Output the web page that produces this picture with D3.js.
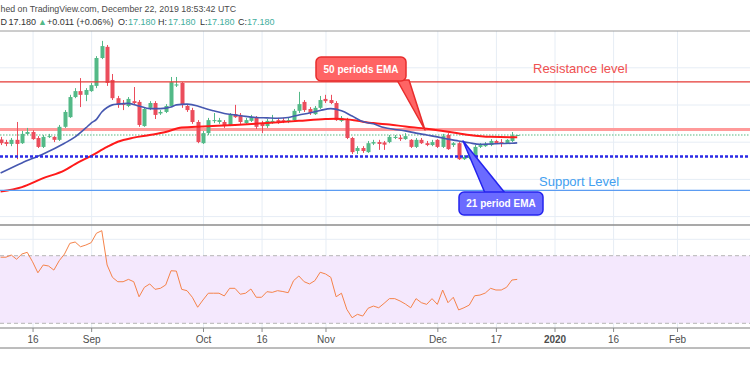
<!DOCTYPE html>
<html>
<head>
<meta charset="utf-8">
<script src="https://cdn.jsdelivr.net/npm/d3@7"></script>
<style>
  body { margin: 0; background: #fff; }
  svg { display: block; font-family: "Liberation Sans", Arial, sans-serif; }
</style>
</head>
<body>
<div class="canvas"></div>
<script>
// x axis: bar index of each tick and its label (weekday bars, Aug 8 2019 = 0)
const tickIdx = [6, 17, 38, 49, 61, 82, 93, 104, 115, 127];
const tickLabels = ["16", "Sep", "Oct", "16", "Nov", "Dec", "17", "2020", "16", "Feb"];

// daily candles [open, high, low, close]
const candles = [
  [17.06,17.13,16.91,16.96],[16.99,17.05,16.88,16.94],[16.94,17.10,16.88,17.05],[17.05,17.53,16.53,16.94],
  [16.96,17.29,16.94,17.21],[17.21,17.37,17.18,17.26],[17.26,17.31,17.05,17.07],[17.10,17.15,16.83,16.86],
  [16.86,17.18,16.83,17.13],[17.13,17.21,17.10,17.15],[17.13,17.15,16.99,17.05],[17.05,17.45,17.02,17.40],
  [17.40,17.85,17.37,17.80],[17.66,18.26,17.64,18.20],[18.20,18.44,18.17,18.36],[18.36,18.71,17.93,18.26],
  [18.26,18.44,18.09,18.39],[18.36,18.58,18.34,18.52],[18.50,19.30,18.44,19.25],[19.25,19.71,19.22,19.57],
  [19.55,19.60,18.50,18.58],[18.66,18.82,18.12,18.17],[18.17,18.23,17.91,17.99],[18.04,18.12,17.85,17.99],
  [17.96,18.20,17.93,18.15],[18.09,18.47,18.01,18.04],[18.07,18.12,17.40,17.45],[17.42,17.93,17.40,17.88],
  [17.91,18.09,17.85,18.04],[18.04,18.09,17.61,17.72],[17.76,17.85,17.72,17.80],[17.80,18.01,17.77,17.96],
  [17.96,18.74,17.93,18.60],[18.51,18.74,18.47,18.54],[18.58,18.60,17.91,18.01],[17.96,18.01,17.80,17.85],
  [17.85,17.91,17.48,17.53],[17.53,17.58,16.96,16.99],[16.96,17.29,16.94,17.23],[17.23,17.64,17.18,17.58],
  [17.56,17.77,17.50,17.58],[17.53,17.64,17.48,17.58],[17.53,17.58,17.37,17.42],[17.45,17.77,17.42,17.72],
  [17.74,17.99,17.64,17.66],[17.72,17.77,17.48,17.53],[17.50,17.64,17.48,17.58],[17.56,17.72,17.53,17.66],
  [17.66,17.69,17.34,17.40],[17.50,17.56,17.23,17.42],[17.42,17.61,17.37,17.56],[17.53,17.72,17.48,17.56],
  [17.58,17.64,17.48,17.50],[17.58,17.64,17.50,17.53],[17.53,17.64,17.50,17.58],[17.58,17.88,17.56,17.83],
  [17.83,18.34,17.77,18.01],[18.07,18.12,17.80,17.85],[17.88,17.93,17.72,17.77],[17.74,17.96,17.72,17.91],
  [17.91,18.23,17.88,18.12],[18.15,18.26,18.04,18.09],[18.12,18.26,18.01,18.04],[18.04,18.09,17.56,17.58],
  [17.56,17.69,17.53,17.64],[17.58,17.64,17.07,17.10],[17.10,17.13,16.67,16.72],[16.75,16.88,16.67,16.83],
  [16.83,16.88,16.70,16.75],[16.72,17.02,16.70,16.96],[16.95,17.05,16.91,16.99],[16.99,17.05,16.78,16.94],
  [16.98,17.02,16.78,16.92],[16.99,17.18,16.96,17.13],[17.10,17.18,17.07,17.13],[17.11,17.18,17.02,17.07],
  [17.07,17.23,17.05,17.15],[17.05,17.07,16.83,16.86],[16.86,17.10,16.83,17.05],[17.05,17.10,16.94,16.96],
  [16.96,17.02,16.88,16.91],[16.91,17.05,16.88,16.99],[17.05,17.07,16.83,16.86],[16.86,17.21,16.83,17.15],
  [17.18,17.23,16.78,16.80],[16.91,16.99,16.86,16.96],[16.96,16.99,16.51,16.53],[16.53,16.64,16.51,16.59],
  [16.56,16.70,16.53,16.64],[16.59,16.91,16.56,16.86],[16.86,16.96,16.83,16.91],[16.88,16.99,16.86,16.94],
  [16.91,17.07,16.88,17.02],[17.02,17.05,16.94,16.96],[16.99,17.07,16.86,16.95],[16.95,17.07,16.94,17.05],
  [17.02,17.26,16.99,17.17],[17.18,17.18,17.18,17.18]
];

// EMA readings (bar index, value)
const ema21Idx = [0,4,8,12,14,16,17,18,19,20,21,22,24,26,28,30,32,33,35,37,38,40,42,44,46,48,50,52,54,56,58,60,62,64,66,68,70,72,74,76,78,80,82,84,86,88,90,92,94,96,97];
const ema21 = [16.16,16.43,16.67,16.96,17.13,17.37,17.50,17.60,17.80,17.92,17.99,18.01,18.03,17.96,17.89,17.89,17.93,17.99,18.01,17.96,17.91,17.83,17.76,17.72,17.68,17.65,17.64,17.63,17.65,17.72,17.77,17.84,17.89,17.83,17.69,17.54,17.48,17.38,17.33,17.29,17.23,17.18,17.13,17.07,17.02,16.97,16.93,16.94,16.95,16.96,16.97];
const ema50Idx = [0,4,8,12,14,17,20,22,25,28,31,34,38,44,50,56,61,63,65,67,70,73,76,80,84,88,92,96,97];
const ema50 = [15.66,15.78,16.02,16.23,16.40,16.62,16.86,17.00,17.11,17.18,17.26,17.38,17.41,17.45,17.50,17.56,17.61,17.62,17.60,17.56,17.50,17.46,17.41,17.35,17.27,17.18,17.13,17.12,17.12];

// RSI(14), one value per bar
const rsi = [69.1,69.1,70.4,67.9,71.0,72.0,66.4,59.9,64.5,63.9,61.5,67.0,71.0,77.3,78.1,75.3,76.3,77.7,83.3,84.8,
  64.5,57.2,54.6,54.6,56.0,54.6,45.7,51.3,53.3,50.1,50.7,52.7,61.1,60.9,50.1,49.3,45.4,39.5,43.8,47.8,
  47.8,47.8,46.2,50.7,50.7,47.2,47.8,50.3,45.4,45.4,48.7,48.3,49.3,48.8,48.1,55.2,58.0,54.6,53.3,55.2,
  60.2,59.2,57.2,45.7,47.8,38.3,33.3,35.3,34.3,38.9,40.2,39.2,41.8,44.6,44.6,43.2,41.4,39.2,44.6,42.2,
  41.2,44.6,41.2,49.7,42.2,45.4,37.9,39.2,40.8,46.3,46.7,47.9,50.7,49.7,49.7,51.3,55.6,56.0];

// drawn levels
const resistance = 18.61;
const pinkLevel = 17.33;
const lastPrice = 17.18;
const dashedLevel = 16.60;
const support = 15.69;

const dims = { width: 750, height: 375 };
const pane = { top: 31, bottom: 225, rsiBottom: 328 };

const svg = d3.select('.canvas')
  .append('svg')
  .attr('width', dims.width)
  .attr('height', dims.height);

svg.append('rect').attr('width', dims.width).attr('height', dims.height).attr('fill', '#fff');

const x = d3.scaleLinear().domain([0, 127]).range([0.6, 677]);
const y = d3.scaleLinear().domain([15, 20]).range([216.1, 30.1]);
const yr = d3.scaleLinear().domain([30, 70]).range([323.3, 255.7]);

// grids
const grid = svg.append('g');
grid.append('g')
  .call(d3.axisLeft(y).tickValues([15, 16, 17, 18, 19]).tickSize(-dims.width).tickFormat(''))
  .call(g => g.select('.domain').remove());
grid.append('g')
  .call(d3.axisLeft(yr).tickValues([40, 60, 80]).tickSize(-dims.width).tickFormat(''))
  .call(g => g.select('.domain').remove());
grid.append('g')
  .attr('transform', `translate(0, ${pane.rsiBottom})`)
  .call(d3.axisBottom(x).tickValues(tickIdx).tickSize(-(pane.rsiBottom - pane.top)).tickFormat(''))
  .call(g => g.select('.domain').remove());
grid.selectAll('line').attr('stroke', '#e6edf5').attr('stroke-width', 1);

// RSI band
svg.append('rect')
  .attr('x', 0).attr('width', dims.width)
  .attr('y', yr(70)).attr('height', yr(30) - yr(70))
  .attr('fill', '#f4e8fd');
[70, 30].forEach(v => {
  svg.append('line')
    .attr('x1', 0).attr('x2', dims.width)
    .attr('y1', yr(v)).attr('y2', yr(v))
    .attr('stroke', '#b5b5b5').attr('stroke-dasharray', '4,3');
});

// pane borders
svg.append('line').attr('x1', 0).attr('x2', dims.width).attr('y1', pane.top).attr('y2', pane.top)
  .attr('stroke', '#9a9a9a');
svg.append('line').attr('x1', 0).attr('x2', dims.width).attr('y1', pane.bottom).attr('y2', pane.bottom)
  .attr('stroke', '#8c8c8c').attr('stroke-width', 1.5);
svg.append('line').attr('x1', 0).attr('x2', dims.width).attr('y1', pane.rsiBottom).attr('y2', pane.rsiBottom)
  .attr('stroke', '#a8a8a8').attr('stroke-width', 1.5);
svg.append('line').attr('x1', 0).attr('x2', dims.width).attr('y1', 348).attr('y2', 348)
  .attr('stroke', '#7a7a7a');

// x axis labels
const xAxis = svg.append('g')
  .attr('transform', `translate(0, ${pane.rsiBottom})`)
  .call(d3.axisBottom(x).tickValues(tickIdx).tickSize(4).tickPadding(4)
    .tickFormat((d, i) => tickLabels[i]));
xAxis.select('.domain').remove();
xAxis.selectAll('line').attr('stroke', '#8a8a8a');
xAxis.selectAll('text')
  .attr('fill', '#4d4d4d')
  .attr('font-size', 10)
  .attr('font-family', '"Liberation Sans", Arial, sans-serif')
  .attr('font-weight', (d, i) => tickLabels[i] === '2020' ? 'bold' : 'normal');

// horizontal drawings
const hline = (p, color, width, dash) => svg.append('line')
  .attr('x1', 0).attr('x2', dims.width)
  .attr('y1', y(p)).attr('y2', y(p))
  .attr('stroke', color).attr('stroke-width', width)
  .attr('stroke-dasharray', dash || null);

hline(lastPrice, '#8fd0aa', 1.5, '1.5,1.5');
hline(pinkLevel, '#ff9a9a', 3);

// candles
const bars = svg.append('g');
candles.forEach((c, i) => {
  const [o, h, l, cl] = c;
  const col = cl >= o ? '#53b987' : '#eb4d5c';
  const cx = Math.round(x(i));
  bars.append('line')
    .attr('x1', cx + 0.5).attr('x2', cx + 0.5)
    .attr('y1', y(h)).attr('y2', y(l))
    .attr('stroke', col);
  const top = y(Math.max(o, cl));
  bars.append('rect')
    .attr('x', cx - 1.5).attr('width', 4)
    .attr('y', top).attr('height', Math.max(1, y(Math.min(o, cl)) - top))
    .attr('fill', col);
});

// EMAs
const emaLine = (idx, vals, color, width) => svg.append('path')
  .datum(idx.map((d, i) => [d, vals[i]]))
  .attr('fill', 'none')
  .attr('stroke', color)
  .attr('stroke-width', width)
  .attr('d', d3.line().x(d => x(d[0])).y(d => y(d[1])).curve(d3.curveMonotoneX));

emaLine(ema50Idx, ema50, '#ff1a1a', 2);
emaLine(ema21Idx, ema21, '#4658b0', 1.6);

hline(resistance, '#e53935', 1.2);
hline(dashedLevel, '#2b2be6', 2.5, '3,2');
hline(support, '#5b9cf2', 1.2);

// RSI line
svg.append('path')
  .datum(rsi)
  .attr('fill', 'none')
  .attr('stroke', '#f5834a')
  .attr('stroke-width', 1)
  .attr('d', d3.line().x((d, i) => x(i)).y(d => yr(d)));

// level labels
svg.append('text').attr('x', 533).attr('y', 73).text('Resistance level')
  .attr('font-size', 13).attr('fill', '#f05050');
svg.append('text').attr('x', 539).attr('y', 186).text('Support Level')
  .attr('font-size', 13).attr('fill', '#42a0f0');

// callouts
const callout = (box, tail, label, fill, stroke) => {
  const g = svg.append('g');
  g.append('polygon')
    .attr('points', tail.map(p => p.join(',')).join(' '))
    .attr('fill', fill).attr('stroke', stroke).attr('stroke-width', 1.5).attr('stroke-linejoin', 'round');
  g.append('rect')
    .attr('x', box.x).attr('y', box.y).attr('width', box.w).attr('height', box.h)
    .attr('rx', 5)
    .attr('fill', fill).attr('stroke', stroke).attr('stroke-width', 1.5);
  g.append('text')
    .attr('x', box.x + box.w / 2).attr('y', box.y + box.h / 2 + 3.5)
    .attr('text-anchor', 'middle')
    .attr('font-size', 10).attr('font-weight', 'bold').attr('fill', '#fff')
    .text(label);
};
callout({x: 316, y: 57, w: 90, h: 24}, [[397, 80], [409, 80], [425, 130]], '50 periods EMA', '#ff6464', '#e82c2c');
callout({x: 459, y: 192, w: 84, h: 23}, [[485, 193], [505, 193], [463, 141]], '21 period EMA', '#6b6bff', '#2424ee');

// header (the snapshot is cropped at the left, only the visible part is shown)
const head = svg.append('g').attr('font-size', 9);
head.append('text').attr('x', 0.5).attr('y', 11.5).attr('font-size', 8.8).attr('fill', '#4a4a4a')
  .text('hed on TradingView.com, December 22, 2019 18:53:42 UTC');
const row2 = [
  ['D', 0.5, '#333'], ['17.180', 8.5, '#333'], ['\u25B2', 38, '#53b987'],
  ['+0.011 (+0.06%)', 47, '#333'],
  ['O:', 118, '#333'], ['17.180', 128, '#3fae9e'],
  ['H:', 158, '#333'], ['17.180', 168, '#3fae9e'],
  ['L:', 200, '#333'], ['17.180', 207, '#3fae9e'],
  ['C:', 238, '#333'], ['17.180', 247, '#3fae9e']
];
row2.forEach(r => {
  head.append('text').attr('x', r[1]).attr('y', 24.5).attr('fill', r[2]).text(r[0]);
});
</script>
</body>
</html>
